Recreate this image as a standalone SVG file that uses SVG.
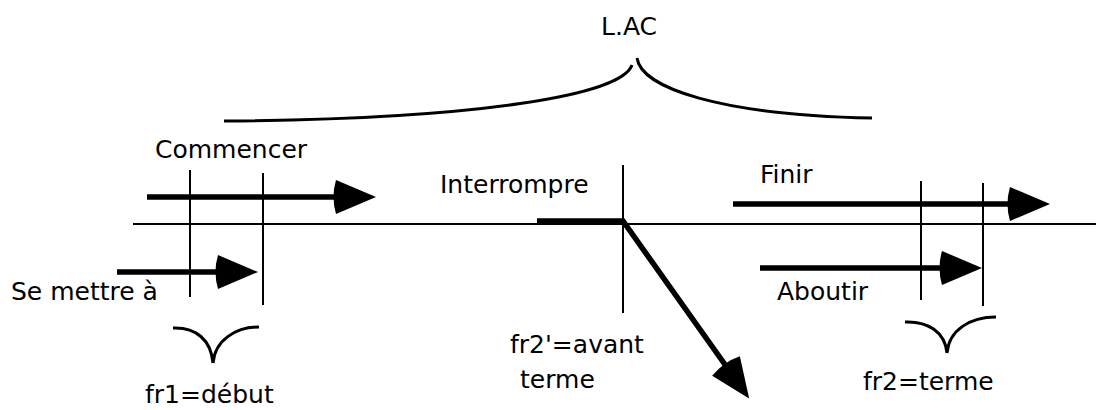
<svg xmlns="http://www.w3.org/2000/svg" width="1096" height="410" viewBox="0 0 1096 410">
  <style>
    .t { font-family: "DejaVu Sans", Verdana, sans-serif; font-size: 25px; fill: #000; }
    .thin { stroke: #000; stroke-width: 2; fill: none; }
    .brace { stroke: #000; stroke-width: 3; fill: none; stroke-linecap: butt; }
    .shaft { stroke: #000; stroke-width: 5.5; fill: none; marker-end: url(#head); }
  </style>
  <defs>
    <marker id="head" markerUnits="userSpaceOnUse" markerWidth="50" markerHeight="40" viewBox="-6 -20 50 40" refX="0" refY="0" orient="auto">
      <path d="M40,0 L0,-17 Q-5,0 0,17 Z" fill="#000"/>
    </marker>
  </defs>
  <rect width="1096" height="410" fill="#fff"/>

  <g id="timeline">
    <line class="thin" x1="133" y1="224" x2="1096" y2="224"/>
  </g>

  <g id="lac">
    <path class="brace" d="M224,121 C480,119 622,95 632,65"/>
    <path class="brace" d="M637,58 C641,88 720,115 872,118"/>
    <text class="t" x="601" y="35">L.AC</text>
  </g>

  <g id="commencer">
    <text class="t" x="155" y="158">Commencer</text>
  </g>
  <g id="se-mettre">
    <text class="t" x="11" y="300">Se mettre à</text>
  </g>
  <g id="fr1">
    <line class="thin" x1="190" y1="170" x2="190" y2="297"/>
    <line class="thin" x1="263" y1="173" x2="263" y2="305"/>
    <path class="brace" d="M173,328 C196,327 211,340 213,363 M259,327 C236,327 215,340 213,363"/>
    <text class="t" x="145" y="403">fr1=début</text>
  </g>

  <g id="interrompre">
    <text class="t" x="440" y="193">Interrompre</text>
  </g>
  <g id="fr2prime">
    <line class="thin" x1="623" y1="165" x2="623" y2="313"/>
    <text class="t" x="510" y="353">fr2'=avant</text>
    <text class="t" x="520" y="388">terme</text>
  </g>

  <g id="finir">
    <text class="t" x="760" y="183">Finir</text>
  </g>
  <g id="aboutir">
    <text class="t" x="777" y="300">Aboutir</text>
  </g>
  <g id="fr2">
    <line class="thin" x1="921" y1="181" x2="921" y2="300"/>
    <line class="thin" x1="983" y1="183" x2="983" y2="306"/>
    <path class="brace" d="M905,322 C928,321 945,332 947,353 M996,317 C970,317 949,330 947,353"/>
    <text class="t" x="863" y="390">fr2=terme</text>
  </g>

  <g id="connectors">
    <line class="shaft" x1="147" y1="197" x2="336" y2="197"/>
    <line class="shaft" x1="117" y1="272" x2="218" y2="272"/>
    <line class="shaft" x1="733" y1="204" x2="1010" y2="204"/>
    <line class="shaft" x1="760" y1="268" x2="942" y2="268"/>
    <polyline class="shaft" points="537,221 623,221 726,366" stroke-linejoin="miter"/>
  </g>
</svg>
